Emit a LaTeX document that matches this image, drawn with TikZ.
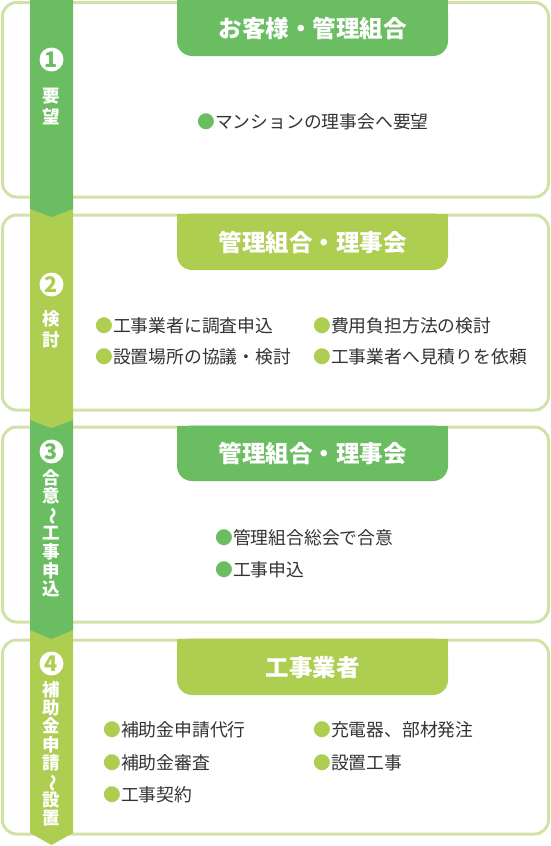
\documentclass[tikz,border=0pt]{standalone}
\usepackage{fontspec}
\newfontfamily\jp{Noto Sans CJK JP}
\definecolor{dk}{HTML}{6BBD62}
\definecolor{lt}{HTML}{AECE52}
\definecolor{bd}{HTML}{D0E2A6}
\definecolor{tx}{HTML}{333333}
\newcommand{\vwave}{\rotatebox[origin=c]{-90}{～}}
\tikzset{
  panel/.style={draw=bd, line width=3pt, rounded corners=14pt},
  tabtxt/.style={font=\jp\bfseries\fontsize{23.5}{26}\selectfont, text=white, inner sep=0pt, text height=20.7pt, text depth=2.8pt},
  item/.style={font=\jp\fontsize{17.8}{20}\selectfont, text=tx, anchor=west, inner sep=0pt, text height=15.7pt, text depth=2.1pt},
  vchar/.style={font=\jp\bfseries\fontsize{17.5}{18}\selectfont, text=white, inner sep=0pt, text height=15.4pt, text depth=2.1pt},
  numdisk/.style={circle, fill=white, minimum size=24pt, inner sep=0pt},
  numtxt/.style={font=\jp\bfseries\fontsize{21.5}{23}\selectfont, inner sep=0pt},
}
\begin{document}
\begin{tikzpicture}[x=1pt,y=-1pt]
\useasboundingbox (0,0) rectangle (551,846);
% panels
\draw[panel] (2.5,2.5) rectangle (548.5,197);
\draw[panel] (2.5,215) rectangle (548.5,410);
\draw[panel] (2.5,427) rectangle (548.5,622);
\draw[panel] (2.5,640) rectangle (548.5,834);
% tabs
\fill[dk, rounded corners=15pt] (177,-2) rectangle (448,56);
\fill[dk] (177,-2) rectangle (448,20);
\fill[lt, rounded corners=15pt] (177,213.5) rectangle (448,270);
\fill[lt] (177,213.5) rectangle (448,235);
\fill[dk, rounded corners=15pt] (177,425.5) rectangle (448,481);
\fill[dk] (177,425.5) rectangle (448,446);
\fill[lt, rounded corners=15pt] (177,638.5) rectangle (448,695);
\fill[lt] (177,638.5) rectangle (448,660);
% bands (bottom first)
\fill[lt] (30,627) -- (73,627) -- (73,833) -- (51.5,845) -- (30,833) -- cycle;
\fill[dk] (30,417) -- (73,417) -- (73,630) -- (51.5,639) -- (30,630) -- cycle;
\fill[lt] (30,206) -- (73,206) -- (73,420) -- (51.5,428) -- (30,420) -- cycle;
\fill[dk] (30,0) -- (73,0) -- (73,209) -- (51.5,217) -- (30,209) -- cycle;
% number disks
\node[numdisk] (d1) at (51.5,59.5) {};
\node[numtxt, text=dk] (n1) at (d1.center) {1};
\node[numdisk] (d2) at (51.5,284.5) {};
\node[numtxt, text=lt] (n2) at (d2.center) {2};
\node[numdisk] (d3) at (51.5,451.5) {};
\node[numtxt, text=dk] (n3) at (d3.center) {3};
\node[numdisk] (d4) at (51.5,663.5) {};
\node[numtxt, text=lt] (n4) at (d4.center) {4};
% vertical labels
\foreach \c [count=\i] in {要,望}
  \node[vchar] (va\i) at (51.5,{95.5+(\i-1)*21.5}) {\c};
\foreach \c [count=\i] in {検,討}
  \node[vchar] (vb\i) at (51.5,{319+(\i-1)*20.5}) {\c};
\foreach \c [count=\i] in {合,意,\vwave,工,事,申,込}
  \node[vchar] (vc\i) at (51.5,{477.5+(\i-1)*18.6}) {\c};
\foreach \c [count=\i] in {補,助,金,申,請,\vwave,設,置}
  \node[vchar] (vd\i) at (51.5,{689.5+(\i-1)*18.4}) {\c};
% titles
\node[tabtxt] (t1) at (312.5,28.5) {お客様・管理組合};
\node[tabtxt] (t2) at (312.5,242.5) {管理組合・理事会};
\node[tabtxt] (t3) at (312.5,453.5) {管理組合・理事会};
\node[tabtxt] (t4) at (312.5,667.5) {工事業者};
% items
\node[item] (i11) at (197,122) {{\color{dk}●}マンションの理事会へ要望};
\node[item] (i21) at (95,326) {{\color{lt}●}工事業者に調査申込};
\node[item] (i22) at (313,326) {{\color{lt}●}費用負担方法の検討};
\node[item] (i23) at (95,357) {{\color{lt}●}設置場所の協議・検討};
\node[item] (i24) at (313,357) {{\color{lt}●}工事業者へ見積りを依頼};
\node[item] (i31) at (215,538) {{\color{dk}●}管理組合総会で合意};
\node[item] (i32) at (215,570) {{\color{dk}●}工事申込};
\node[item] (i41) at (103,730) {{\color{lt}●}補助金申請代行};
\node[item] (i42) at (313,730) {{\color{lt}●}充電器、部材発注};
\node[item] (i43) at (103,763) {{\color{lt}●}補助金審査};
\node[item] (i44) at (313,763) {{\color{lt}●}設置工事};
\node[item] (i45) at (103,795) {{\color{lt}●}工事契約};
\end{tikzpicture}
\end{document}
